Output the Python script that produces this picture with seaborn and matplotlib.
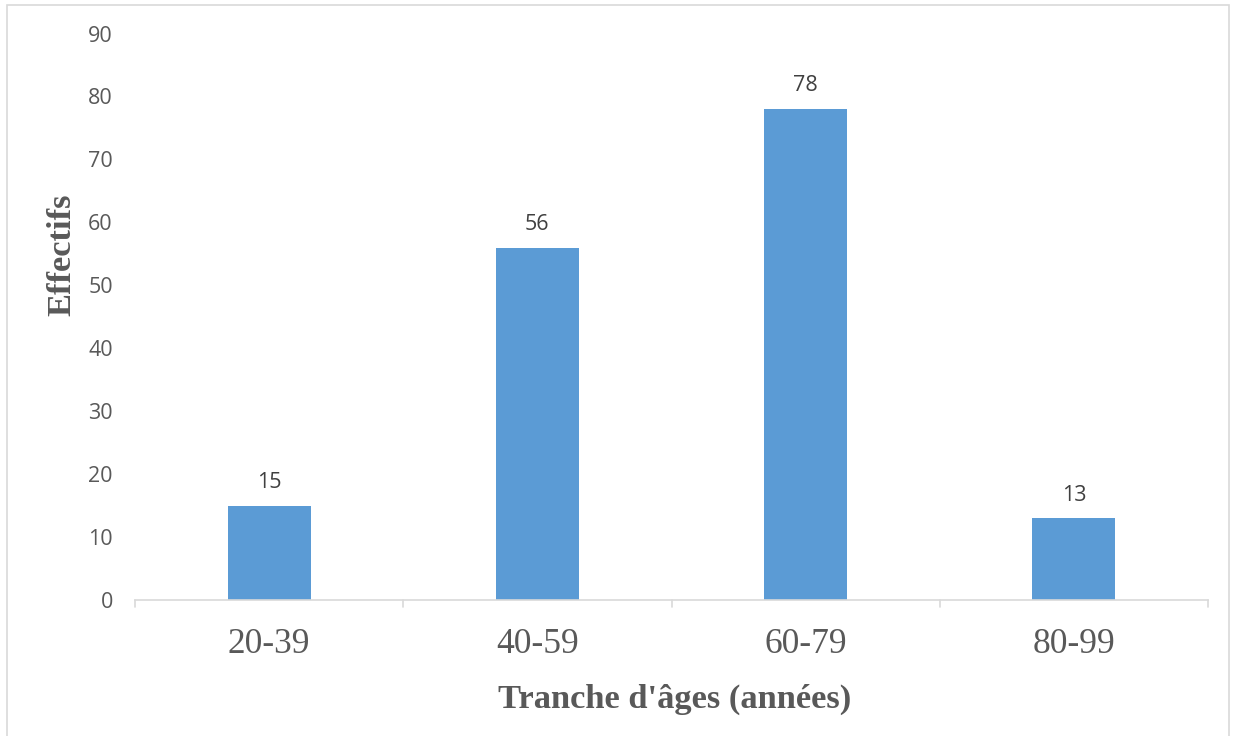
import matplotlib
matplotlib.use("Agg")
import matplotlib.pyplot as plt
import seaborn as sns
import pandas as pd
from matplotlib.patches import Rectangle

categories = ["20-39", "40-59", "60-79", "80-99"]
values = [15, 56, 78, 13]
y_ticks = [0, 10, 20, 30, 40, 50, 60, 70, 80, 90]

sns.set_theme(style="white")
plt.rcParams['font.family'] = ['Open Sans', 'DejaVu Sans']

df = pd.DataFrame({"Tranche": categories, "Effectifs": values})

fig = plt.figure(figsize=(12.34, 7.36), dpi=100)
ax = fig.add_axes([135/1234, 1-600/736, (1208-135)/1234, (600-33.5)/736])

sns.barplot(data=df, x="Tranche", y="Effectifs", color="#5B9BD5", width=0.31,
            saturation=1, ax=ax, edgecolor="none")

ax.set_ylim(0, 90)
ax.set_xlim(-0.5, 3.5)
ax.set_yticks(y_ticks)
ax.set_yticklabels([str(t) for t in y_ticks], fontsize=15.5, color="#595959")
ax.set_xticklabels(categories, fontsize=25.5, color="#595959", family="Liberation Serif")
ax.tick_params(axis="y", length=0, pad=16)
ax.tick_params(axis="x", length=0, pad=20.5)

for s in ["top", "right", "left"]:
    ax.spines[s].set_visible(False)
ax.spines["bottom"].set_color("#D9D9D9")
ax.spines["bottom"].set_linewidth(1.2)
# category separator ticks
for xb in [-0.5, 0.5, 1.5, 2.5, 3.5]:
    ax.plot([xb, xb], [0, -1.1], color="#D9D9D9", lw=1.2, clip_on=False)

for i, v in enumerate(values):
    ax.text(i, v + 2.0, str(v), ha="center", va="bottom", fontsize=15.5, color="#404040")

ax.set_xlabel("Tranche d'âges (années)", fontsize=24.8, fontweight="bold",
              family="Liberation Serif", color="#595959")
ax.set_ylabel("Effectifs", fontsize=24.8, fontweight="bold",
              family="Liberation Serif", color="#595959")
ax.xaxis.set_label_coords((675-135)/(1208-135), -(684-600)/(600-33.5))
ax.yaxis.set_label_coords(-(135-77)/(1208-135), (600-255)/(600-33.5))

fig.patches.append(Rectangle((7/1234, -0.01), (1229-7)/1234, 1-5/736 + 0.01,
                             transform=fig.transFigure, fill=False,
                             edgecolor="#D9D9D9", lw=1.2))

fig.savefig("out.png", dpi=100, facecolor="white")
